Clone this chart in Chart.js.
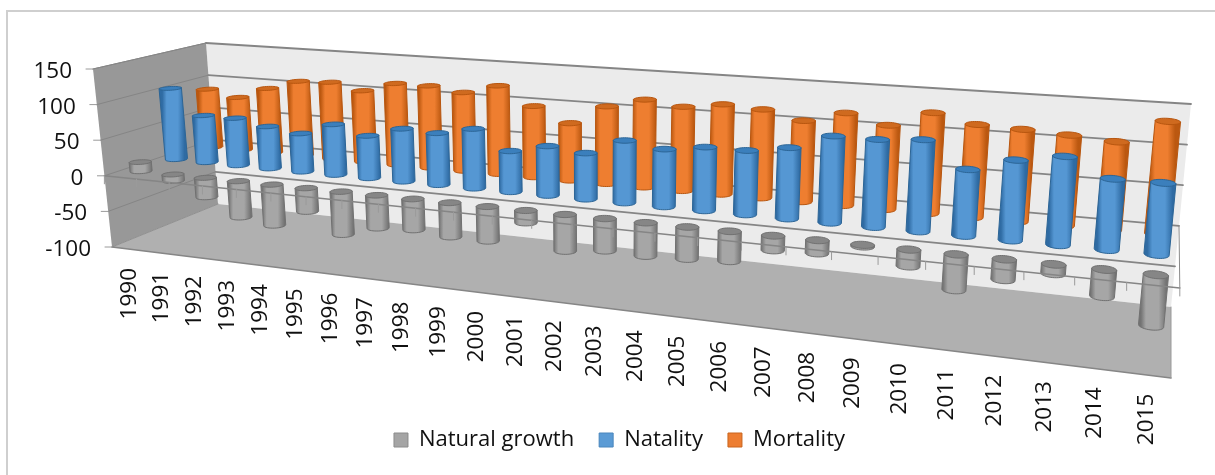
<!DOCTYPE html>
<html>
<head>
<meta charset="utf-8">
<style>
html, body { margin: 0; padding: 0; background: #fff; overflow: hidden; }
#box { position: absolute; left: 0; top: 0; width: 1215px; height: 475px; }
#edge { position: absolute; left: 6px; top: 10px; right: 0; bottom: 0; border-left: 2px solid #cfcfcf; border-top: 2px solid #cfcfcf; }
canvas { filter: blur(0.5px); }
</style>
</head>
<body>
<div id="box">
<div id="edge"></div>
<canvas id="myChart" width="1215" height="475"></canvas>
</div>
<script src="https://cdn.jsdelivr.net/npm/chart.js@4/dist/chart.umd.js"></script>
<script>
const years = ['1990', '1991', '1992', '1993', '1994', '1995', '1996', '1997', '1998', '1999', '2000', '2001', '2002',
    '2003', '2004', '2005', '2006', '2007', '2008', '2009', '2010', '2011', '2012', '2013', '2014', '2015'];
const naturalGrowth = [13, -9, -27, -50, -56, -32, -58, -44, -41, -45, -45, -16, -47,
    -41, -42, -40, -37, -18, -16, -2, -20, -42, -24, -11, -31, -58];
const natality = [104, 68, 68, 60, 54, 71, 59, 73, 71, 81, 55, 66, 61,
    82, 75, 82, 82, 90, 109, 109, 113, 81, 97, 106, 84, 84];
const mortality = [88, 79, 96, 110, 112, 103, 117, 117, 111, 124, 99, 79, 106,
    119, 113, 120, 117, 106, 120, 108, 128, 117, 115, 112, 108, 137];
const yTicks = [-100, -50, 0, 50, 100, 150];

// depth of each row in the box: 0 is the front edge of the floor, 1 the back wall
const rowDepth = [0.17, 0.5, 0.83];
const shades = [
    { edge: '#737373', mid: '#a6a6a6', cap: '#868686', rim: '#717171' },
    { edge: '#2f6ba3', mid: '#5597d3', cap: '#3b7fbc', rim: '#2c6596' },
    { edge: '#bb5810', mid: '#ee7e30', cap: '#cf6a1f', rim: '#b8560f' }
];

// corners of the 3d box on the page
const corners = {
    frontBase: [[112, 247], [1171, 378]],
    frontTop: [[93, 69], [1193, 153]],
    backBase: [[218, 204], [1171, 307]],
    backTop: [[206, 43], [1191, 104]]
};
const perspective = 1.3;
const labelFont = '22.5px "Open Sans"';

function lerp(a, b, t) {
    return [a[0] + (b[0] - a[0]) * t, a[1] + (b[1] - a[1]) * t];
}

// t along the years, d into the depth, w up the value axis
function boxPoint(t, d, w) {
    const u = t / (t + perspective * (1 - t));
    const fb = lerp(corners.frontBase[0], corners.frontBase[1], u);
    const ft = lerp(corners.frontTop[0], corners.frontTop[1], u);
    const bb = lerp(corners.backBase[0], corners.backBase[1], u);
    const bt = lerp(corners.backTop[0], corners.backTop[1], u);
    return lerp(lerp(fb, bb, d), lerp(ft, bt, d), w);
}

// turn a flat pixel from the chart scales into a pixel on the box
function project(chart, px, py, d) {
    const a = chart.chartArea;
    return boxPoint((px - a.left) / (a.right - a.left), d, (a.bottom - py) / (a.bottom - a.top));
}

function line(ctx, p, q, color, width) {
    ctx.strokeStyle = color;
    ctx.lineWidth = width;
    ctx.beginPath();
    ctx.moveTo(p[0], p[1]);
    ctx.lineTo(q[0], q[1]);
    ctx.stroke();
}

function fillQuad(ctx, pts, color) {
    ctx.fillStyle = color;
    ctx.beginPath();
    pts.forEach((p, i) => (i ? ctx.lineTo(p[0], p[1]) : ctx.moveTo(p[0], p[1])));
    ctx.closePath();
    ctx.fill();
}

function ellipsePoints(chart, px, py, d, half) {
    const c = project(chart, px, py, d);
    const along = project(chart, px + 10, py, d);
    const deep = project(chart, px, py, d + 0.062);
    const len = Math.hypot(along[0] - c[0], along[1] - c[1]);
    const ax = (along[0] - c[0]) / len * half;
    const ay = (along[1] - c[1]) / len * half;
    const pts = [];
    for (let i = 0; i < 36; i++) {
        const th = i / 36 * Math.PI * 2;
        pts.push([c[0] + ax * Math.cos(th) + (deep[0] - c[0]) * Math.sin(th) + 2.5,
            c[1] + ay * Math.cos(th) + (deep[1] - c[1]) * Math.sin(th)]);
    }
    return pts;
}

function drawCylinder(chart, ctx, bar, d, shade) {
    const a = chart.chartArea;
    const t = (bar.x - a.left) / (a.right - a.left);
    const half = bar.width / 2 * (0.8 + 0.36 * t);
    const upper = Math.min(bar.y, bar.base);
    const lower = Math.max(bar.y, bar.base);
    const topPts = ellipsePoints(chart, bar.x, upper, d, half);
    const lowPts = ellipsePoints(chart, bar.x, lower, d, half);

    let l = 0, r = 0;
    lowPts.forEach((p, i) => {
        if (p[0] < lowPts[l][0]) l = i;
        if (p[0] > lowPts[r][0]) r = i;
    });
    let tl = 0, tr = 0;
    topPts.forEach((p, i) => {
        if (p[0] < topPts[tl][0]) tl = i;
        if (p[0] > topPts[tr][0]) tr = i;
    });

    // body outline: down the left side, round the near half of the bottom, up the right side
    ctx.beginPath();
    ctx.moveTo(topPts[tl][0], topPts[tl][1]);
    for (let i = l; ; i = (i + 1) % 36) {
        ctx.lineTo(lowPts[i][0], lowPts[i][1]);
        if (i === r) break;
    }
    ctx.lineTo(topPts[tr][0], topPts[tr][1]);
    ctx.closePath();

    const gx0 = (topPts[tl][0] + lowPts[l][0]) / 2;
    const gx1 = (topPts[tr][0] + lowPts[r][0]) / 2;
    const gy = (topPts[tl][1] + lowPts[l][1]) / 2;
    const grad = ctx.createLinearGradient(gx0, gy, gx1, gy);
    grad.addColorStop(0, shade.edge);
    grad.addColorStop(0.2, shade.mid);
    grad.addColorStop(0.7, shade.mid);
    grad.addColorStop(1, shade.edge);
    ctx.fillStyle = grad;
    ctx.fill();
    ctx.strokeStyle = shade.rim;
    ctx.lineWidth = 1;
    ctx.stroke();

    fillQuad(ctx, topPts, shade.cap);
    ctx.strokeStyle = shade.rim;
    ctx.stroke();
}

const box3d = {
    id: 'box3d',
    beforeDatasetsDraw(chart) {
        const ctx = chart.ctx;
        const x = chart.scales.x;
        const y = chart.scales.y;
        const a = chart.chartArea;
        const fb = corners.frontBase, ft = corners.frontTop, bb = corners.backBase, bt = corners.backTop;

        ctx.save();
        ctx.lineCap = 'round';

        // walls and floor
        fillQuad(ctx, [bt[0], bt[1], bb[1], bb[0]], '#ebebeb');
        fillQuad(ctx, [ft[0], bt[0], bb[0], fb[0]], '#989898');
        fillQuad(ctx, [bb[0], bb[1], fb[1], fb[0]], '#b0b0b0');
        line(ctx, ft[0], bt[0], '#8a8a8a', 1);
        line(ctx, fb[0], bb[0], '#8f8f8f', 1);
        line(ctx, fb[0], fb[1], '#868686', 1.5);
        line(ctx, fb[1], bb[1], '#9a9a9a', 1);

        // grid on the back and left walls, ticks on the front edge
        y.ticks.forEach(tick => {
            const py = y.getPixelForValue(tick.value);
            const front = project(chart, a.left, py, 0);
            const back = project(chart, a.left, py, 1);
            const right = project(chart, a.right, py, 1);
            if (tick.value > yTicks[0]) {
                line(ctx, back, right, '#858585', 1.8);
                line(ctx, front, back, '#858585', 1);
            }
            line(ctx, [front[0] - 7, front[1]], front, '#9a9a9a', 1);
        });

        // back to front: mortality, natality, natural growth
        for (let i = chart.data.datasets.length - 1; i >= 0; i--) {
            chart.getDatasetMeta(i).data.forEach(bar => {
                drawCylinder(chart, ctx, bar, rowDepth[i], shades[i]);
            });
        }

        // zero line of the front row with its ticks, and the side edge at zero
        const zero = y.getPixelForValue(0);
        const z0 = project(chart, a.left, zero, 0);
        const z1 = project(chart, a.right, zero, 0);
        line(ctx, z0, z1, '#858585', 1.4);
        line(ctx, z1, project(chart, a.right, zero, 1), '#8a8a8a', 1);
        for (let i = 0; i <= years.length; i++) {
            const p = project(chart, a.left + (a.right - a.left) * i / years.length, zero, 0);
            line(ctx, p, [p[0], p[1] + 8], '#9a9a9a', 1);
        }

        // axis labels
        ctx.fillStyle = '#111';
        ctx.font = labelFont;
        ctx.textAlign = 'right';
        ctx.textBaseline = 'middle';
        y.ticks.forEach(tick => {
            const p = project(chart, a.left, y.getPixelForValue(tick.value), 0);
            ctx.fillText(tick.label, p[0] - 21, p[1] + 2.5);
        });
        x.ticks.forEach((tick, i) => {
            const p = project(chart, x.getPixelForTick(i), a.bottom, 0);
            ctx.save();
            ctx.translate(p[0] + 2, p[1] + 19);
            ctx.rotate(-Math.PI / 2);
            ctx.fillText(tick.label, 0, 0);
            ctx.restore();
        });
        ctx.restore();
        return false;
    }
};

const ctx = document.getElementById('myChart').getContext('2d');
const myChart = new Chart(ctx, {
    type: 'bar',
    data: {
        labels: years,
        datasets: [
            { label: 'Natural growth', data: naturalGrowth, backgroundColor: '#a5a5a5', borderColor: '#8c8c8c', borderWidth: 1 },
            { label: 'Natality', data: natality, backgroundColor: '#5b9bd5', borderColor: '#4a86bd', borderWidth: 1 },
            { label: 'Mortality', data: mortality, backgroundColor: '#ed7d31', borderColor: '#c9651f', borderWidth: 1 }
        ]
    },
    options: {
        responsive: false,
        animation: false,
        layout: { padding: { left: 24, right: 0, top: 20, bottom: 14 } },
        datasets: { bar: { grouped: false, barPercentage: 0.48, categoryPercentage: 1 } },
        scales: {
            x: { display: false, ticks: { autoSkip: false } },
            y: {
                display: false,
                min: yTicks[0],
                max: yTicks[yTicks.length - 1],
                afterBuildTicks: scale => { scale.ticks = yTicks.map(value => ({ value })); }
            }
        },
        plugins: {
            tooltip: { enabled: false },
            legend: {
                position: 'bottom',
                labels: {
                    boxWidth: 14,
                    boxHeight: 14,
                    padding: 25,
                    color: '#111',
                    font: { family: '"Open Sans"', size: 22 }
                }
            }
        }
    },
    plugins: [box3d]
});
</script>
</body>
</html>
